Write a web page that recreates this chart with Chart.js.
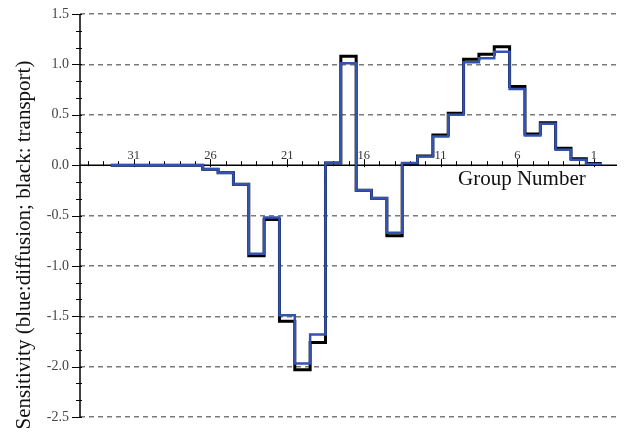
<!DOCTYPE html>
<html>
<head>
<meta charset="utf-8">
<script src="https://cdn.jsdelivr.net/npm/chart.js@4"></script>
<style>
  html, body { margin: 0; padding: 0; background: #fff; }
  #wrap { width: 625px; height: 437px; }
</style>
</head>
<body>
<div id="wrap"><canvas id="chart" width="625" height="437"></canvas></div>
<script>
'use strict';

// Energy groups, coarse (32) to fine (1)
const GROUPS = [32, 31, 30, 29, 28, 27, 26, 25, 24, 23, 22, 21, 20, 19, 18, 17,
                16, 15, 14, 13, 12, 11, 10, 9, 8, 7, 6, 5, 4, 3, 2, 1];
const TRANSPORT = [0, 0, 0, 0, 0, 0, -0.04, -0.075, -0.19, -0.90, -0.54, -1.55, -2.03, -1.76, 0.02, 1.08,
                   -0.25, -0.33, -0.70, 0.01, 0.09, 0.30, 0.515, 1.05, 1.10, 1.175, 0.78, 0.31, 0.42, 0.168, 0.063, 0.015];
const DIFFUSION = [0, 0, 0, 0, 0, 0, -0.04, -0.075, -0.19, -0.88, -0.52, -1.49, -1.97, -1.68, 0.02, 1.01,
                   -0.25, -0.33, -0.67, 0.02, 0.085, 0.285, 0.50, 1.02, 1.06, 1.125, 0.755, 0.295, 0.41, 0.152, 0.053, 0.012];
const GROUP_LABELS = [31, 26, 21, 16, 11, 6, 1];
const Y_MIN = -2.5;
const Y_MAX = 1.5;
const Y_STEP = 0.5;

const SERIF = '"Liberation Serif", "Times New Roman", serif';
const BLUE = '#3352b2';

// each group is a bin [g+0.5, g-0.5]; the closing point ends the last bin
function binEdges(values) {
  const pts = GROUPS.map((g, i) => ({ x: g + 0.5, y: values[i] }));
  const last = GROUPS.length - 1;
  pts.push({ x: GROUPS[last] - 0.5, y: values[last] });
  return pts;
}

const axesPlugin = {
  id: 'crossAxes',
  beforeDatasetsDraw(chart) {
    const { ctx, chartArea: area, scales: { x, y } } = chart;
    const y0 = y.getPixelForValue(0);
    ctx.save();
    ctx.strokeStyle = '#000';
    ctx.lineWidth = 1.5;

    // horizontal axis through zero
    ctx.beginPath();
    ctx.moveTo(area.left, y0);
    ctx.lineTo(area.right, y0);
    ctx.stroke();

    // group ticks
    ctx.lineWidth = 1;
    for (let g = 1; g <= 34; g++) {
      const px = Math.round(x.getPixelForValue(g)) + 0.5;
      const major = GROUP_LABELS.includes(g);
      ctx.beginPath();
      ctx.moveTo(px, y0 - (major ? 6 : 4));
      ctx.lineTo(px, y0 + (major ? 2 : 1));
      ctx.stroke();
    }
    ctx.fillStyle = '#333';
    ctx.font = '12.5px ' + SERIF;
    ctx.textAlign = 'center';
    ctx.textBaseline = 'alphabetic';
    GROUP_LABELS.forEach((g) => {
      ctx.fillText(String(g), x.getPixelForValue(g), y0 - 6);
    });

    // vertical axis
    ctx.lineWidth = 1.5;
    ctx.beginPath();
    ctx.moveTo(area.left, area.top);
    ctx.lineTo(area.left, area.bottom);
    ctx.stroke();
    ctx.lineWidth = 1;
    const minorStep = Y_STEP / 3;
    const n = Math.round((Y_MAX - Y_MIN) / minorStep);
    for (let i = 0; i <= n; i++) {
      const py = Math.round(y.getPixelForValue(Y_MIN + i * minorStep)) + 0.5;
      const major = i % 3 === 0;
      ctx.beginPath();
      ctx.moveTo(area.left - (major ? 8 : 4), py);
      ctx.lineTo(area.left + 2, py);
      ctx.stroke();
    }
    ctx.restore();
  },
  afterDraw(chart) {
    const { ctx } = chart;
    ctx.save();
    ctx.fillStyle = '#111';
    ctx.font = '21px ' + SERIF;
    ctx.textAlign = 'left';
    ctx.textBaseline = 'alphabetic';
    ctx.fillText('Group Number', 458, 185);

    ctx.translate(24, 245);
    ctx.rotate(-Math.PI / 2);
    ctx.font = '21px ' + SERIF;
    ctx.textAlign = 'center';
    ctx.textBaseline = 'middle';
    ctx.fillText('Sensitivity (blue:diffusion; black: transport)', 0, 0);
    ctx.restore();
  },
};

new Chart(document.getElementById('chart'), {
  type: 'line',
  data: {
    datasets: [
      {
        label: 'diffusion',
        data: binEdges(DIFFUSION),
        stepped: 'before',
        borderColor: BLUE,
        borderWidth: 2.5,
        pointRadius: 0,
        fill: false,
        order: 0,
      },
      {
        label: 'transport',
        data: binEdges(TRANSPORT),
        stepped: 'before',
        borderColor: '#000',
        borderWidth: 3,
        pointRadius: 0,
        fill: false,
        order: 1,
      },
    ],
  },
  options: {
    responsive: false,
    animation: false,
    layout: { padding: { left: 0, right: 8, top: 14, bottom: 20 } },
    plugins: { legend: { display: false }, tooltip: { enabled: false } },
    scales: {
      x: {
        type: 'linear',
        reverse: true,
        min: -0.5,
        max: 34.5,
        display: false,
      },
      y: {
        min: Y_MIN,
        max: Y_MAX,
        afterFit(scale) {
          scale.width = 80;
          scale.paddingTop = 0;
          scale.paddingBottom = 0;
        },
        border: { display: false, dash: [5, 4] },
        grid: {
          drawTicks: false,
          lineWidth: 1.5,
          color: (c) => (c.tick && c.tick.value === 0 ? 'rgba(0,0,0,0)' : '#7a7a7a'),
        },
        ticks: {
          stepSize: Y_STEP,
          padding: 11,
          color: '#444',
          font: { family: SERIF, size: 14 },
          callback: (v) => v.toFixed(1),
        },
      },
    },
  },
  plugins: [axesPlugin],
});
</script>
</body>
</html>
